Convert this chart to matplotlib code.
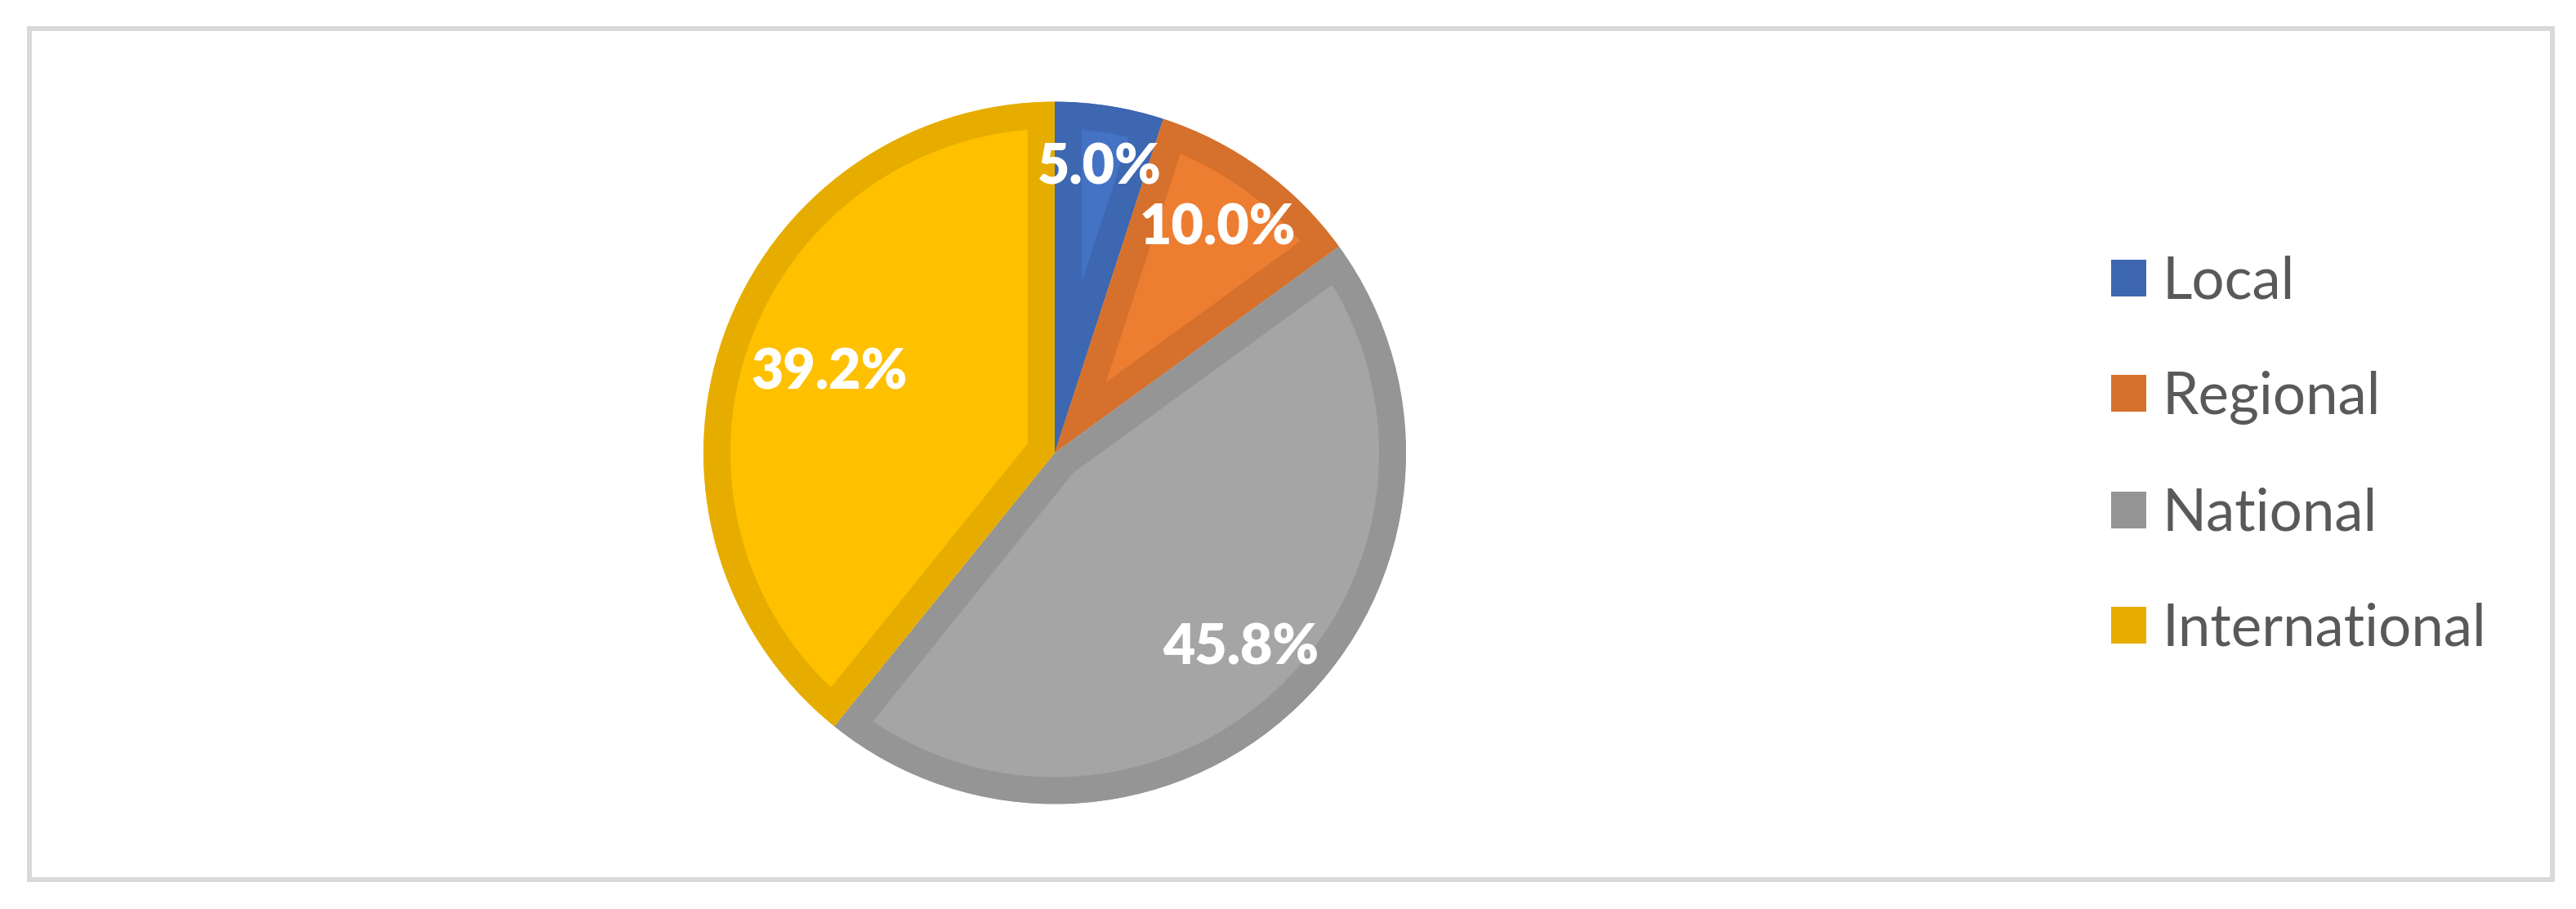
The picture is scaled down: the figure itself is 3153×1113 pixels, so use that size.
import matplotlib
matplotlib.use("Agg")
import matplotlib.pyplot as plt
from matplotlib.patches import Rectangle, Patch
import numpy as np

categories = ["Local", "Regional", "National", "International"]
values = [5.0, 10.0, 45.8, 39.2]
pct_labels = ["5.0%", "10.0%", "45.8%", "39.2%"]

fill_colors = ["#4472C4", "#ED7D31", "#A5A5A5", "#FFC000"]
edge_colors = ["#3D67B0", "#D5712C", "#959595", "#E6AD00"]

W, H = 3153, 1113
DPI = 100
fig = plt.figure(figsize=(W / DPI, H / DPI), dpi=DPI)
fig.patch.set_facecolor("white")

# outer frame
fig.add_artist(Rectangle((35.5 / W, 36.5 / H), (3123.5 - 35.5) / W, (1078.5 - 36.5) / H,
                         transform=fig.transFigure, fill=False,
                         edgecolor="#D9D9D9", linewidth=6 * 0.72))

# pie axes
cx, cy, R = 1291, H - 554.5, 430
L = 1.05
half = R * L
ax = fig.add_axes([(cx - half) / W, (cy - half) / H, 2 * half / W, 2 * half / H])
wedges, _ = ax.pie(values, colors=fill_colors, startangle=90, counterclock=False,
                   radius=1.0, wedgeprops=dict(linewidth=0))
border_px = 33
for w, ec in zip(wedges, edge_colors):
    w.set_edgecolor(ec)
    w.set_linewidth(2 * border_px * 0.72)
    w.set_joinstyle("round")
    w.set_clip_on(True)
    w.set_clip_path(w)
ax.set_xlim(-L, L)
ax.set_ylim(-L, L)
ax.set_aspect("equal")
ax.axis("off")

# percentage labels
label_r = [0.82, 0.79, 0.77, 0.68]
for w, txt, r in zip(wedges, pct_labels, label_r):
    mid = np.deg2rad((w.theta1 + w.theta2) / 2)
    ax.text(r * np.cos(mid), r * np.sin(mid), txt, ha="center", va="center",
            color="white", fontsize=49, fontweight="heavy", family="Lato")

# legend
handles = [Patch(facecolor=c, edgecolor="none") for c in edge_colors]
leg = fig.legend(handles, categories, loc="upper left",
                 bbox_to_anchor=(2584 / W, 1 - 312 / H), frameon=False,
                 prop=dict(family="Lato", size=51), labelcolor="#595959",
                 handlelength=0.6, handleheight=0.6, handletextpad=0.28,
                 labelspacing=1.08, borderpad=0, borderaxespad=0)

fig.savefig("out.png", dpi=DPI)
